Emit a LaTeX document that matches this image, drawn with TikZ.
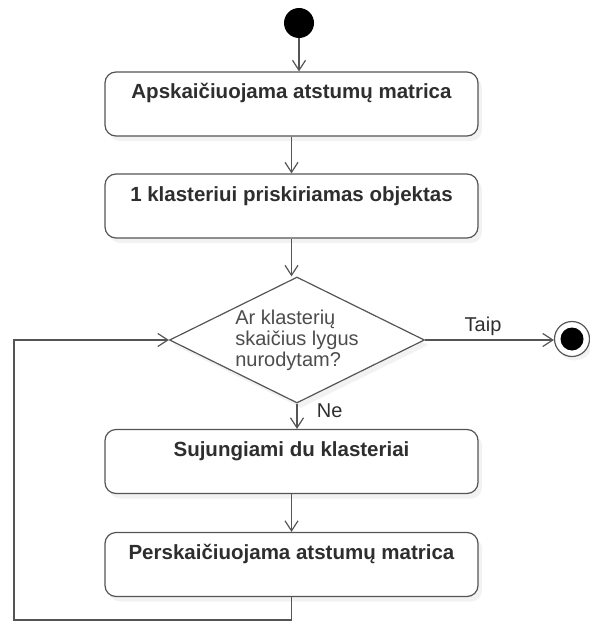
\documentclass[tikz,border=0pt]{standalone}
\usepackage{fontspec}
\setmainfont{Liberation Sans}
\usetikzlibrary{arrows.meta, shapes.geometric, shadows, calc}

\definecolor{linegray}{HTML}{555555}
\definecolor{textgray}{HTML}{2E2E2E}

\begin{document}
\begin{tikzpicture}[x=1pt, y=-1pt, >={Straight Barb[length=10pt, width=13pt]},
  flow/.style={->, draw=linegray, line width=1.2pt},
  box/.style={draw=linegray, line width=1.2pt, rounded corners=11pt, fill=white,
    minimum width=373pt, minimum height=64pt, inner ysep=12pt,
    text height=15pt, text depth=25pt, text=textgray,
    font=\fontsize{20.5}{24}\selectfont\bfseries,
    drop shadow={shadow xshift=4pt, shadow yshift=-5pt, opacity=0.1}},
  decision/.style={diamond, aspect=2, draw=linegray, line width=1.2pt, fill=white,
    minimum width=255pt, minimum height=126pt, inner sep=0pt, align=left,
    text=textgray!85, font=\fontsize{20}{21}\selectfont,
    drop shadow={shadow xshift=4pt, shadow yshift=-5pt, opacity=0.1}},
  label/.style={text=textgray, font=\fontsize{20}{21}\selectfont}
]

\useasboundingbox (0,0) rectangle (589,623);

% start and end
\node[circle, fill=black, minimum size=30pt, inner sep=0pt] (start) at (299,23) {};
\node[circle, draw=linegray, line width=1.2pt, fill=white, minimum size=35pt, inner sep=0pt,
  drop shadow={shadow xshift=3pt, shadow yshift=-4pt, opacity=0.1}] (end) at (572,339) {};
\node[circle, fill=black, minimum size=23pt, inner sep=0pt] (endin) at (end) {};

% actions
\node[box] (box1) at (291.5,104) {Apskaičiuojama atstumų matrica};
\node[box] (box2) at (291.5,206) {1 klasteriui priskiriamas objektas};
\node[decision] (dec) at (297,340) {Ar klasterių\\skaičius lygus\\nurodytam?};
\node[box] (box3) at (291.5,461.5) {Sujungiami du klasteriai};
\node[box] (box4) at (291.5,564.5) {Perskaičiuojama atstumų matrica};

\coordinate (loop) at (14,620);

% flows
\draw[flow] (start) -- (start |- box1.north);
\draw[flow] (box1) -- (box2);
\draw[flow] (box2.south) -- (box2.south |- dec.north);
\draw[flow] (dec.south) -- (dec.south |- box3.north)
  node[label, right=16pt, pos=0.3] {Ne};
\draw[flow] (box3) -- (box4);
\draw[flow] (dec.east) -- (dec.east -| end.west)
  node[label, above, pos=0.45] {Taip};
\draw[flow] (box4.south) |- (loop) |- (dec.west);

\end{tikzpicture}
\end{document}
